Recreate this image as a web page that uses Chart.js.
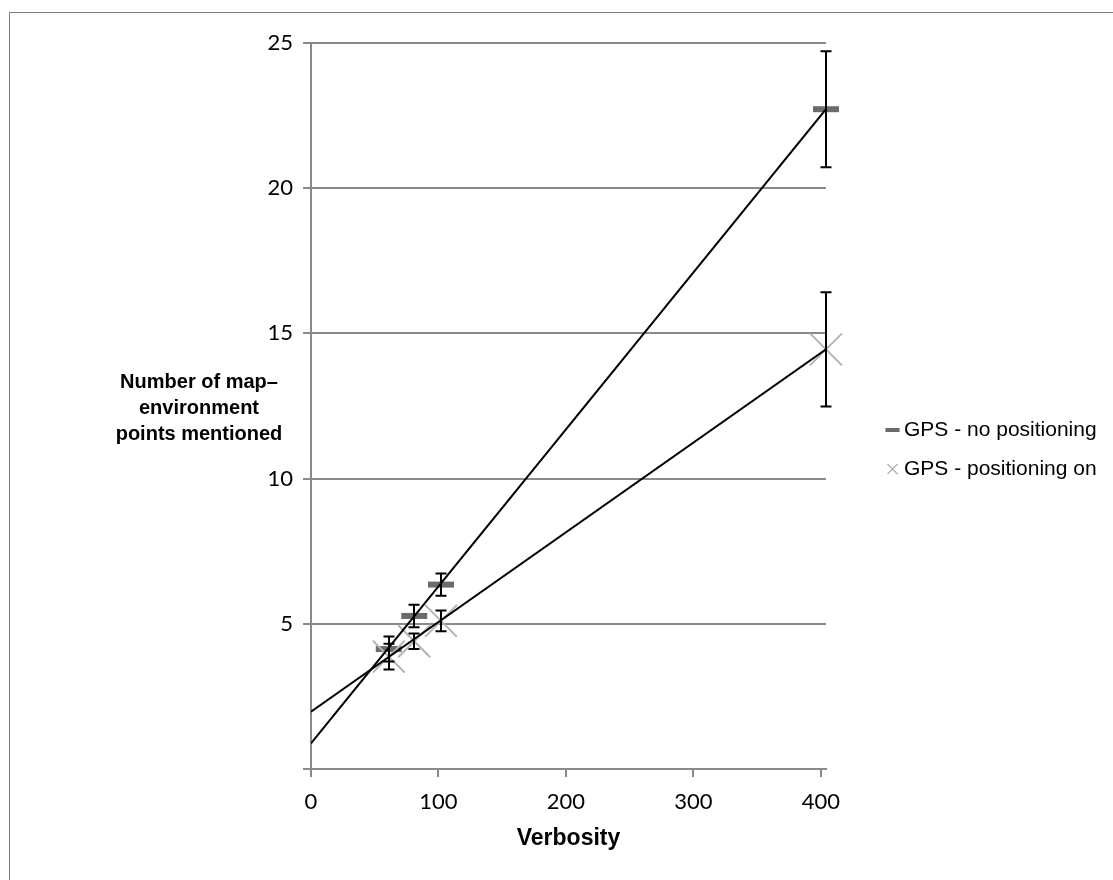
<!DOCTYPE html>
<html>
<head>
<meta charset="utf-8">
<script src="https://cdn.jsdelivr.net/npm/chart.js@4"></script>
<style>
  html, body { margin: 0; padding: 0; background: #fff; }
  #wrap { width: 1113px; height: 880px; }
</style>
</head>
<body>
<div id="wrap"><canvas id="c" width="1113" height="880"></canvas></div>
<script>
// ---- data ----
const verbosity = [61, 81, 102, 404];
const noPositioning = [4.13, 5.27, 6.35, 22.72];
const noPositioningErr = [0.43, 0.39, 0.38, 2.0];
const positioningOn = [3.87, 4.40, 5.10, 14.45];
const positioningOnErr = [0.44, 0.27, 0.36, 1.97];
const trendX = [0, 404];
const trendNoPositioning = [0.88, 22.72];
const trendPositioningOn = [1.97, 14.45];
const xTicks = [0, 100, 200, 300, 400];
const yTicks = [0, 5, 10, 15, 20, 25];
const seriesNames = ['GPS - no positioning', 'GPS - positioning on'];
const xTitle = 'Verbosity';
const yTitleLines = ['Number of map\u2013', 'environment', 'points mentioned'];

const toPts = (xs, ys) => xs.map((x, i) => ({ x: x, y: ys[i] }));

const GRID = '#8a8a8a';
const TICK_FONT = { family: 'Lato, "Liberation Sans", Arial, sans-serif', size: 22 };
const LABEL_FONT = '"Liberation Sans", Arial, sans-serif';
const LEGEND_SIZE = 21, LEGEND_PAD = 18, LEGEND_BOX = 2;
const PLOT_RIGHT = 826, LEGEND_LEFT = 873.5;

// width the legend will take, so the plot area ends where the reference's does
const mctx = document.createElement('canvas').getContext('2d');
mctx.font = LEGEND_SIZE + 'px ' + LABEL_FONT;
const legendTextW = Math.max(...seriesNames.map(s => mctx.measureText(s).width));
const legendW = LEGEND_PAD + LEGEND_BOX + LEGEND_SIZE / 2 + legendTextW;
const padRight = Math.max(0, 1113 - PLOT_RIGHT - legendW);

const errorBarPlugin = {
  id: 'errorBars',
  afterDatasetsDraw(chart) {
    const { ctx, scales: { x, y } } = chart;
    ctx.save();
    ctx.strokeStyle = '#000';
    ctx.lineWidth = 2;
    chart.data.datasets.forEach(ds => {
      if (!ds.errors) return;
      ds.data.forEach((p, i) => {
        const e = ds.errors[i];
        const px = Math.round(x.getPixelForValue(p.x));
        const top = y.getPixelForValue(p.y + e);
        const bot = y.getPixelForValue(p.y - e);
        ctx.beginPath();
        ctx.moveTo(px, top); ctx.lineTo(px, bot);
        ctx.moveTo(px - 5.5, top); ctx.lineTo(px + 5.5, top);
        ctx.moveTo(px - 5.5, bot); ctx.lineTo(px + 5.5, bot);
        ctx.stroke();
      });
    });
    ctx.restore();
  }
};

const frameAndTitlePlugin = {
  id: 'frameAndTitle',
  afterLayout(chart) {
    const lg = chart.legend;
    if (lg) { const d = LEGEND_LEFT - lg.left; lg.left += d; lg.right += d; }
  },
  beforeDraw(chart) {
    const { ctx } = chart;
    ctx.save();
    ctx.fillStyle = '#fff';
    ctx.fillRect(0, 0, chart.width, chart.height);
    ctx.strokeStyle = '#808080';
    ctx.lineWidth = 1;
    ctx.strokeRect(9.5, 12.5, chart.width + 50, chart.height + 50);
    ctx.restore();
  },
  afterDraw(chart) {
    const { ctx } = chart;
    ctx.save();
    ctx.fillStyle = '#000';
    ctx.font = 'bold 20px ' + LABEL_FONT;
    ctx.textAlign = 'center';
    ctx.textBaseline = 'middle';
    const cx = 199, y0 = 382, lh = 26;
    yTitleLines.forEach((t, i) => ctx.fillText(t, cx, y0 + i * lh));
    ctx.restore();
  }
};

const datasets = [
  {
    label: 'trend-no',
    data: toPts(trendX, trendNoPositioning),
    showLine: true, pointRadius: 0, borderColor: '#000', borderWidth: 2,
    order: 0
  },
  {
    label: 'trend-on',
    data: toPts(trendX, trendPositioningOn),
    showLine: true, pointRadius: 0, borderColor: '#000', borderWidth: 2,
    order: 0
  },
  {
    label: seriesNames[0],
    isSeries: true,
    data: toPts(verbosity, noPositioning),
    errors: noPositioningErr,
    pointStyle: 'line', pointRadius: 13, pointBorderWidth: 6,
    borderColor: '#6b6b6b', backgroundColor: '#6b6b6b',
    legendLineWidth: 4,
    clip: false,
    order: 2
  },
  {
    label: seriesNames[1],
    isSeries: true,
    data: toPts(verbosity, positioningOn),
    errors: positioningOnErr,
    pointStyle: 'crossRot', pointRadius: 22.6, pointBorderWidth: 2,
    borderColor: '#b4b4b4', backgroundColor: '#b4b4b4',
    legendLineWidth: 1.5,
    clip: false,
    order: 1
  }
];

const chart = new Chart(document.getElementById('c'), {
  type: 'scatter',
  data: { datasets },
  plugins: [errorBarPlugin, frameAndTitlePlugin],
  options: {
    responsive: false,
    animation: false,
    devicePixelRatio: 1,
    events: [],
    layout: { padding: { left: 0, top: 43, right: padRight, bottom: 24 } },
    plugins: {
      tooltip: { enabled: false },
      legend: {
        position: 'right',
        align: 'center',
        labels: {
          usePointStyle: true,
          boxWidth: LEGEND_BOX,
          boxHeight: 10,
          padding: LEGEND_PAD,
          color: '#000',
          font: { family: LABEL_FONT, size: LEGEND_SIZE },
          filter: (item, data) => !!data.datasets[item.datasetIndex].isSeries,
          sort: (a, b) => a.datasetIndex - b.datasetIndex,
          generateLabels(chart) {
            const items = Chart.defaults.plugins.legend.labels.generateLabels(chart);
            return items.map(it => {
              const ds = chart.data.datasets[it.datasetIndex];
              if (ds.isSeries) {
                it.lineWidth = ds.legendLineWidth;
                it.strokeStyle = ds.borderColor;
                it.fillStyle = ds.borderColor;
                it.fontColor = '#000';
              }
              return it;
            });
          }
        }
      }
    },
    scales: {
      x: {
        type: 'linear',
        min: 0,
        max: 404,
        afterBuildTicks: s => { s.ticks = xTicks.map(v => ({ value: v })); },
        afterFit: s => { s.height = 87; },
        ticks: { color: '#000', font: TICK_FONT, padding: 12, maxRotation: 0, autoSkip: false },
        grid: { drawOnChartArea: false, drawTicks: true, tickLength: 8, color: GRID, lineWidth: 2 },
        border: { color: GRID, width: 2 },
        title: {
          display: true, text: xTitle, color: '#000',
          font: { family: LABEL_FONT, size: 23, weight: 'bold' },
          padding: { top: 0, bottom: 4 }
        }
      },
      y: {
        type: 'linear',
        min: 0,
        max: 25,
        afterBuildTicks: s => { s.ticks = yTicks.map(v => ({ value: v })); },
        afterFit: s => { s.width = 311; },
        ticks: { color: '#000', font: TICK_FONT, padding: 10, callback: v => (v === 0 ? '' : v) },
        grid: { drawTicks: true, tickLength: 8, color: GRID, lineWidth: 2 },
        border: { color: GRID, width: 2 }
      }
    }
  }
});

// correct the plot's right edge to the reference's if the legend measured differently
const diff = chart.chartArea.right - PLOT_RIGHT;
if (Math.abs(diff) > 0.5) {
  chart.options.layout.padding.right = Math.max(0, padRight + diff);
  chart.update();
}
</script>
</body>
</html>
